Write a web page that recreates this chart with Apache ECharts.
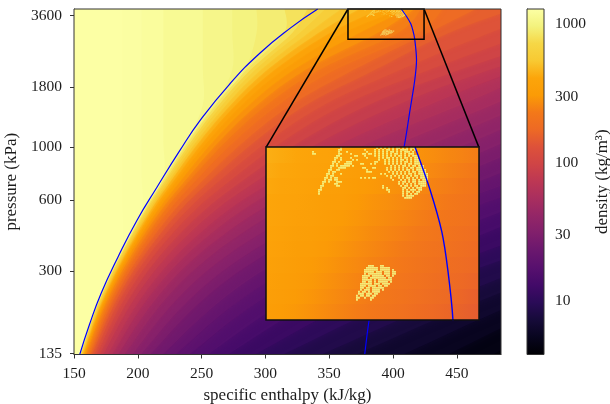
<!DOCTYPE html>
<html><head><meta charset="utf-8">
<style>html,body{margin:0;padding:0;background:#fff}#c{width:610px;height:404px}</style>
<script src="https://cdn.jsdelivr.net/npm/echarts@6/dist/echarts.min.js"></script>
</head><body><div id="c"></div>
<script>
// ---- axes ----
const xTicks = [150,200,250,300,350,400,450];
const yTicks = [135,300,600,1000,1800,3600];
const barTicks = [10,30,100,300,1000];
const hRange = [150,484.6];
const pRange = [133.7,3835];
const rhoRange = [4.12,1283];
const zoomH = [364.7,424.3];
const zoomP = [2860,3835];
const insetH = [300.5,467.3];
const insetP = [186,1000];

// inferno colour ramp
const inferno = ['#000004','#08051e','#160b39','#2a0b57','#420a68','#57106e','#6a176e','#801f6c','#932667','#a82e5f','#bc3754','#cf4446','#dd513a','#ed6925','#f37819','#fb9b06','#fca50a','#f8c932','#f6d746','#f3f27d','#fcffa4'];

// ---- saturation curves ----
const liquidLine = [[154.5,133.7],[162,178],[171.2,242],[184.5,345],[199.4,493],[215,679],[233,971],[248.7,1296],[272,1850],[295.8,2500],[320,3200],[341,3835]];
const vapourLine = [[377.8,133.7],[381.2,186],[388,300],[396,493],[399.5,600],[408.6,1000],[413.3,1436],[417,1920],[418.4,2338],[417,2862],[415.6,3110],[413.9,3321],[410.6,3567],[406.4,3835]];

// ---- density field: enthalpy at which density falls to each level, at each pressure ----
const densityLevels = [4.5,5.2,6,7,8,9.5,11,13,15,17.5,20,23,27,31,36,42,49,57,66,77,90,105,122,142,165,192,224,260,303,353,411,478,556,647,753,876,950,1020,1100,1190,1240,1280];
const pressureNodes = [133.7,206,292,399,554,750,1065,1518,2125,3030,3835];
const h134 = [478.5,443,408,371,344,314,292,270.6,255,240.4,229.6,219.7,209.8,202.5,195.7,189.7,184.5,180,176.5,173,170.3,167.9,165.9,164,162.6,161.3,160.2,159.2,158.4,157.7,157.1,156.6,156.1,155.7,155.4,155.1,155,154.9,154.8,154.7,154.65,154.6];
const h206 = [546,515,484.5,451,422.8,386.5,356,326.6,305,284.9,269.9,256.2,242.4,232.4,223,214.6,207.5,201.4,196.4,191.8,187.9,184.5,181.7,179.3,177.2,175.4,173.8,172.6,171.4,170.4,169.5,168.8,168.3,167.7,167.2,166.8,166.6,166.5,166.4,166.2,166.15,166.1];
const h292 = [619.8,587.5,556,521.9,492.5,454.5,422,385,357,330.9,311.7,293.9,276.3,263.5,251.3,240.5,231.3,223.5,217,211.2,206,201.8,198.1,195,192.3,190.1,188,186.4,184.8,183.6,182.5,181.6,180.8,180.1,179.6,179.1,178.8,178.6,178.4,178.2,178.15,178.1];
const h399 = [688.7,656.5,625.2,591.2,561.7,524,491.8,455,423.7,390.1,363.8,340.9,318,301.4,285.5,271.6,259.6,249.5,241.1,233.5,226.8,221.2,216.6,212.6,209.1,206.1,203.5,201.3,199.3,197.7,196.3,195.1,194.1,193.2,192.4,191.9,191.6,191.3,191,190.7,190.6,188];
const h554 = [728.8,700.9,672.1,642.4,616.3,582.1,553.3,520,492.1,461.5,435.4,407.5,376.7,354.2,333,314.2,298.1,284.4,273,262.8,253.9,246.3,240.1,234.6,229.9,225.9,222.3,219.4,216.8,214.6,212.7,211,209.7,208.5,207.4,206.5,206.1,205.8,205.5,205.2,203,188];
const h750 = [780.7,753.7,727.6,698.8,673.6,642.1,614.2,583.6,556.6,527.8,502.6,476.5,446.8,421.6,393.7,367.6,345.7,327.3,312,298.1,286,275.8,267.3,259.9,253.6,248.1,243.2,239.4,235.8,232.8,230.3,228,226.2,224.6,223.2,221.9,221.4,220.9,220.5,220,203,188];
const h1065 = [827.5,802.3,777.1,750.1,726.7,697,670.9,642.1,616.9,589.9,566.5,542.2,514.3,490,463.9,436.9,409.9,384.6,363.6,344.6,328,314,302.4,292.2,283.6,276.1,269.5,264.1,259.3,255.2,251.7,248.6,246.1,243.9,242,240.3,239.6,238.9,238.4,220,203,188];
const h1518 = [873.6,849.6,826.6,800.9,778.8,750.3,726.4,698.8,674.8,649.1,627,604,577.3,554.3,529.5,504.6,478.9,454,429.2,404.4,381.5,362.3,346.5,332.5,320.7,310.5,301.5,294.1,287.5,281.8,277,273,269.5,266.5,263.8,261.5,260.5,259.6,251,220,203,188];
const h2125 = [911.9,890,867.3,843.5,823.6,797,774.2,748.5,726.7,702.9,683,661.1,636.4,615.5,592.7,569,545.2,522.4,499.6,475.9,452.1,428.4,405.7,385.9,369.2,354.6,341.8,331.4,322,314,307.1,301.3,296.3,292,288.3,285.1,283.7,274,251,220,203,188];
const h3030 = [1163,1133,1103,1071,1043,1007,977,942,912,880,852,823,788,761,730,697,665,634,603,571,539,506.5,475,443,427,419,403.5,387.4,372.9,360.4,349.9,340.9,333.2,326.6,320.8,314.5,293,274,251,220,203,188];
const h3835 = [1188,1158,1130,1099,1072,1038,1008,975,945,913,887,859,827,799,770,739,708,677,648,617,586,555,525,495,465,439,422,417,412,407.5,389.9,373.3,359.1,346.9,333,315,293,274,251,220,203,188];
const enthalpyAtNode = [h134,h206,h292,h399,h554,h750,h1065,h1518,h2125,h3030,h3835];

// ---- magnified window: density cells ----
const insetCellH = [366.8,371.1,375.3,379.6,383.8,388.1,392.3,396.6,400.9,405.1,409.4,413.6,417.9,422.1];
const insetCellP = [3784,3685,3588,3493,3401,3312,3225,3140,3057,2977,2899];
const insetRho = [
[432,413,395,378,361,346,331,317,303,290,278,265,254,243],
[420,401,383,366,350,334,319,305,292,279,266,255,243,232],
[407,389,371,354,338,322,308,294,281,267,255,244,232,222],
[396,378,360,343,327,311,296,283,270,257,245,233,222,212],
[385,366,349,332,316,301,286,272,259,247,235,223,213,202],
[375,356,339,322,305,290,276,262,249,237,225,214,203,193],
[364,345,327,311,295,280,265,252,239,227,215,205,194,184],
[354,336,318,301,285,270,256,243,230,218,207,196,185,176],
[344,326,308,292,276,261,247,234,221,209,198,187,177,168],
[334,316,298,282,267,252,238,225,213,201,190,179,170,160],
[325,307,290,274,258,243,230,217,205,193,182,172,162,153]];

// ---- high-density specks, one character per cell ----
const speckRho = 1000;
const speckA = {h0:377.6, dh:0.56, p0:3835, ratio:0.99662, rows:[
"..............#.................#.#.#.#.#.##.#.#.###",
".............##...........#....#.#.#.##.#.#.####.#.#",
"#............#...#.........#...#.#.#.#.##.#.#.###.#.",
"##...........##....#.....##.##.#.#.#.#.#.##.#.#.###.",
"............##.......##...#....#.#.#.#.#.#.##.#.#.###",
"...........##.#....#.......#.....#.#.##.#.#.#.##.#.##",
"...........#..#.....#.#..........#..#.#.#.#.##.#.#.###",
"..........##.#...###...........##...#.#.#.#.#.##.#.###",
"..........#.#...####....##...#.#....#.#.#.#.#.#.##.###",
".........##.#.#####.#..................#.#.#.##.#.##.###",
".........#...####........##...##.....#.#.#.#.#.#.##.####",
"........##..##.............#.........#.#.#.#.#.##.#.#####",
"........#.##...............###........#.#.#.#.#.#.##.####",
".......##.#...#...................#.#...#.#.#.#.##.#.#####",
".......#.##..........................#.#.#.#.#.#.#.##.####",
"......##.#.##...........#.#.#.##.......#...#.#.##.#.#.####",
"......#.##.##...........................#...#.#.#.##.#.###",
".....##.#...###............................#.##.#.##.####",
".....#.....##..............................#.#.#.#.#.####",
"....##......##.....................#........#.##.#.##.###",
"....#..............................#.#.......##.#.#.###.",
"...##................................##......#.#.###.##.",
"...#..................................#......#.##.#.##",
"...#.........................................#.#.#.##",
".............................................#.####",
"..............................................####."]};
const speckB = {h0:389.9, dh:0.56, p0:3140, ratio:0.99662, rows:[
"......###...##......",
".....######.#####...",
"....#######.#####.#.",
"....#####.###.###.##",
"....#.#######.###.##",
"...####.######.##.#.",
"...###.########.##..",
"...#####.#.#######..",
"...##.##.#.#####.#..",
"..######.###.####...",
"..###.####.##.##....",
"..##.##.######......",
"..#.###.####.#......",
".#.##.#.####........",
".###.###.##.........",
"#.##.##.##..........",
"##..#..##...........",
"#......#............"]};

// ---- helpers ----
function colourOf(rho){
  let t=(Math.log10(rho)-Math.log10(rhoRange[0]))/(Math.log10(rhoRange[1])-Math.log10(rhoRange[0]));
  t=Math.max(0,Math.min(1,t));
  const f=t*(inferno.length-1),i=Math.min(inferno.length-2,Math.floor(f)),u=f-i;
  const a=parseInt(inferno[i].slice(1),16),b=parseInt(inferno[i+1].slice(1),16);
  const m=s=>Math.round(((a>>s)&255)*(1-u)+((b>>s)&255)*u);
  return 'rgb('+m(16)+','+m(8)+','+m(0)+')';
}
const speckCells=[];
[speckA,speckB].forEach(s=>s.rows.forEach((row,r)=>{
  for(let c=0;c<row.length;c++) if(row[c]==='#')
    speckCells.push([s.h0+c*s.dh, s.p0*Math.pow(s.ratio,r), s.h0+(c+1)*s.dh, s.p0*Math.pow(s.ratio,r+1)]);
}));
const insetCells=[];
insetRho.forEach((row,r)=>row.forEach((v,c)=>{
  const hw=(insetCellH[1]-insetCellH[0])/2, pf=Math.sqrt(insetCellP[0]/insetCellP[1]);
  const lv=c>0?Math.sqrt(v*row[c-1]):v*Math.sqrt(v/row[c+1]);
  const rv=c<row.length-1?Math.sqrt(v*row[c+1]):v*Math.sqrt(v/row[c-1]);
  insetCells.push([insetCellH[c]-hw, insetCellP[r]*pf, insetCellH[c]+hw, insetCellP[r]/pf, lv, rv]);
}));
function rectItem(params,api){
  const a=api.coord([api.value(0),api.value(1)]),b=api.coord([api.value(2),api.value(3)]);
  return {x:a[0],y:a[1],width:b[0]-a[0],height:b[1]-a[1]};
}
// rounds the corners of a level curve when it is drawn
function roundCurve(nodes){
  const out=[nodes[0]];
  for(let i=0;i<nodes.length-1;i++){
    const p0=nodes[Math.max(0,i-1)],p1=nodes[i],p2=nodes[i+1],p3=nodes[Math.min(nodes.length-1,i+2)];
    for(let k=1;k<=6;k++){
      const t=k/6,t2=t*t,t3=t2*t;
      out.push([0,1].map(d=>0.5*((2*p1[d])+(-p0[d]+p2[d])*t+(2*p0[d]-5*p1[d]+4*p2[d]-p3[d])*t2+(-p0[d]+3*p1[d]-3*p2[d]+p3[d])*t3)));
    }
  }
  return out;
}
function speckSeries(xi,z){return {type:'custom',xAxisIndex:xi,yAxisIndex:xi,z:z,clip:true,silent:true,data:speckCells,encode:{x:[0,2],y:[1,3]},
  renderItem:(p,api)=>{const r=rectItem(p,api);return {type:'rect',shape:{x:r.x,y:r.y,width:r.width*0.9,height:r.height*0.9},style:{fill:colourOf(speckRho)}};}};}
function frameSeries(xi,z,range,color,lw){return {type:'custom',xAxisIndex:xi,yAxisIndex:xi,z:z,clip:false,silent:true,data:[range],encode:{x:[0,2],y:[1,3]},
  renderItem:(p,api)=>{const r=rectItem(p,api);return {type:'rect',shape:r,style:{fill:'none',stroke:color,lineWidth:lw}};}};}
function lineSeries(xi,z,data,color,lw,smooth){return {type:'line',xAxisIndex:xi,yAxisIndex:xi,z:z,data:data,showSymbol:false,symbol:'none',smooth:smooth,lineStyle:{color:color,width:lw},silent:true,clip:true};}

const txt='#1c1c1c', font='"Liberation Serif"', fs=15.5, fsName=17;
const mainFrame=[hRange[0],pRange[1],hRange[1],pRange[0]];
const contourData=[[150,1000,-1]].concat(densityLevels.map((l,i)=>[150,1000,i]));

const option={
  animation:false, backgroundColor:'#fff',
  textStyle:{fontFamily:font},
  grid:[
    {left:74,top:9,width:427,height:345.5,outerBoundsMode:'none'},
    {left:266,top:147,width:213,height:173,outerBoundsMode:'none'},
    {left:527,top:9,width:17,height:345.5,outerBoundsMode:'none'}
  ],
  xAxis:[
    {type:'value',gridIndex:0,min:hRange[0],max:hRange[1],name:'specific enthalpy (kJ/kg)',nameLocation:'middle',nameGap:33,
      nameTextStyle:{fontFamily:font,fontSize:fsName,color:txt},splitLine:{show:false},
      axisLine:{show:true,lineStyle:{color:'#333'}},
      axisTick:{show:true,length:4,customValues:xTicks,lineStyle:{color:'#333'}},
      axisLabel:{customValues:xTicks,margin:11,fontFamily:font,fontSize:fs,color:txt}},
    {type:'value',gridIndex:1,min:zoomH[0],max:zoomH[1],show:false,splitLine:{show:false}},
    {type:'value',gridIndex:2,min:0,max:1,show:false,splitLine:{show:false}}
  ],
  yAxis:[
    {type:'log',gridIndex:0,logBase:10,min:pRange[0],max:pRange[1],name:'pressure (kPa)',nameLocation:'middle',nameGap:38,
      nameTextStyle:{fontFamily:font,fontSize:fsName,color:txt},splitLine:{show:false},minorTick:{show:false},
      axisLine:{show:true,lineStyle:{color:'#333'}},
      axisTick:{show:true,length:4,customValues:yTicks,lineStyle:{color:'#333'}},
      axisLabel:{customValues:yTicks,margin:12,verticalAlignMinLabel:'middle',verticalAlignMaxLabel:'middle',fontFamily:font,fontSize:fs,color:txt,formatter:v=>String(Math.round(v))}},
    {type:'log',gridIndex:1,logBase:10,min:zoomP[0],max:zoomP[1],show:false,splitLine:{show:false}},
    {type:'log',gridIndex:2,logBase:10,min:rhoRange[0],max:rhoRange[1],position:'right',name:'density (kg/m³)',nameLocation:'middle',nameGap:50,nameRotate:90,
      nameTextStyle:{fontFamily:font,fontSize:fsName,color:txt},splitLine:{show:false},minorTick:{show:false},
      axisLine:{show:true,lineStyle:{color:'#333'}},
      axisTick:{show:true,length:5,customValues:barTicks,lineStyle:{color:'#333'}},
      axisLabel:{customValues:barTicks,margin:11,fontFamily:font,fontSize:fs,color:txt,formatter:v=>String(Math.round(v))}}
  ],
  series:[
    // density bands
    {type:'custom',xAxisIndex:0,yAxisIndex:0,z:1,clip:true,silent:true,data:contourData,encode:{x:0,y:1},
     renderItem:(p,api)=>{
       const k=api.value(2);
       if(k<0){const a=api.coord([hRange[0],pRange[1]]),b=api.coord([hRange[1],pRange[0]]);
         return {type:'rect',shape:{x:a[0],y:a[1],width:b[0]-a[0],height:b[1]-a[1]},style:{fill:colourOf(Math.sqrt(rhoRange[0]*densityLevels[0]))}};}
       const nodes=pressureNodes.map((pn,i)=>api.coord([enthalpyAtNode[i][k],pn]));
       const pts=[api.coord([hRange[0],pressureNodes[0]])].concat(roundCurve(nodes));
       pts.push(api.coord([hRange[0],pressureNodes[pressureNodes.length-1]]));
       const next=k+1<densityLevels.length?densityLevels[k+1]:rhoRange[1]*1.2;
       const L=densityLevels[k], col=colourOf(Math.sqrt(L*next));
       const blur=L<90?8:L<300?4:L<600?2:0;
       return {type:'polygon',shape:{points:pts},style:{fill:col,shadowBlur:blur,shadowColor:col}};
     }},
    speckSeries(0,2),
    lineSeries(0,3,liquidLine,'#0000ff',1.2,0.5),
    lineSeries(0,3,vapourLine,'#0000ff',1.2,0.3),
    frameSeries(0,4,[zoomH[0],zoomP[1],zoomH[1],zoomP[0]],'#000',1.5),
    lineSeries(0,4,[[zoomH[0],zoomP[1]],[insetH[0],insetP[1]]],'#000',1.5,false),
    lineSeries(0,4,[[zoomH[1],zoomP[1]],[insetH[1],insetP[1]]],'#000',1.5,false),
    frameSeries(0,5,mainFrame,'#333',1),
    // magnified window
    {type:'custom',xAxisIndex:1,yAxisIndex:1,z:6,clip:true,silent:true,data:insetCells,encode:{x:[0,2],y:[1,3]},
     renderItem:(p,api)=>{const r=rectItem(p,api);
       const fill=new echarts.graphic.LinearGradient(0,0,1,0,[{offset:0,color:colourOf(api.value(4))},{offset:1,color:colourOf(api.value(5))}]);
       const x0=Math.round(r.x),x1=Math.round(r.x+r.width),y0=Math.round(r.y),y1=Math.round(r.y+r.height);
       return {type:'rect',shape:{x:x0,y:y0,width:x1-x0,height:y1-y0},style:{fill:fill}};}},
    speckSeries(1,7),
    lineSeries(1,8,vapourLine,'#0000ff',1.4,0.3),
    frameSeries(1,9,[zoomH[0],zoomP[1],zoomH[1],zoomP[0]],'#111',1.5),
    // colour bar
    {type:'custom',xAxisIndex:2,yAxisIndex:2,z:1,clip:false,silent:true,data:[[0,rhoRange[1],1,rhoRange[0]]],encode:{x:[0,2],y:[1,3]},
     renderItem:(p,api)=>{const r=rectItem(p,api);
       const stops=inferno.map((c,i)=>({offset:1-i/(inferno.length-1),color:c})).reverse();
       return {type:'rect',shape:r,style:{fill:new echarts.graphic.LinearGradient(0,0,0,1,stops)}};}},
    frameSeries(2,3,[0,rhoRange[1],1,rhoRange[0]],'#333',1)
  ]
};
echarts.init(document.getElementById('c'),null,{renderer:'canvas'}).setOption(option);
</script></body></html>
